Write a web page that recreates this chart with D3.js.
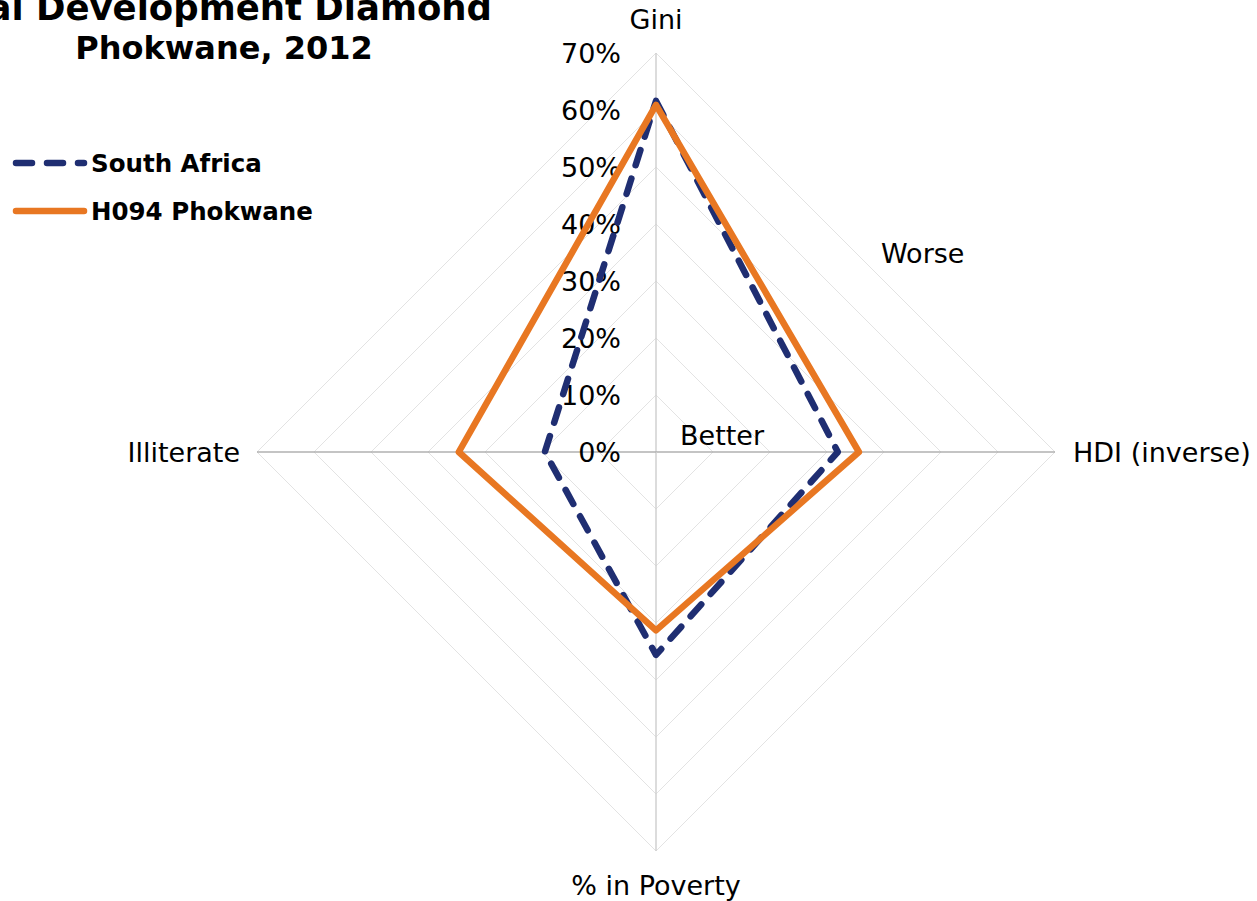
<!DOCTYPE html>
<html><head><meta charset="utf-8">
<script src="https://cdn.jsdelivr.net/npm/d3@7"></script>
<style>html,body{margin:0;padding:0;background:#fff;overflow:hidden}svg{display:block}</style>
</head><body>
<script>
const axesNames = ["Gini", "HDI (inverse)", "% in Poverty", "Illiterate"];
const southAfrica = [0.616, 0.319, 0.356, 0.195];
const phokwane = [0.609, 0.356, 0.313, 0.346];
const tickValues = [0, 0.1, 0.2, 0.3, 0.4, 0.5, 0.6, 0.7];
const seriesNames = ["South Africa", "H094 Phokwane"];
const titleLines = ["Social Development Diamond", "Phokwane, 2012"];

const W = 1257, H = 901, cx = 656, cy = 452, R = 399;
const svg = d3.select("body").append("svg").attr("width", W).attr("height", H);
const r = d3.scaleLinear().domain([0, 0.7]).range([0, R]);
const angle = d3.scalePoint().domain(axesNames).range([0, 2*Math.PI*3/4]);
const pt = (name, v) => { const a = angle(name) - Math.PI/2; return [cx + r(v)*Math.cos(a), cy + r(v)*Math.sin(a)]; };
const font = "'DejaVu Sans', Verdana, sans-serif";
const fs = 27;

// grid diamonds
const lineClosed = d3.line().curve(d3.curveLinearClosed);
svg.append("g").selectAll("path").data(tickValues.slice(1)).join("path")
  .attr("d", t => lineClosed(axesNames.map(n => pt(n, t))))
  .attr("fill", "none").attr("stroke", "#e3e3e3").attr("stroke-width", 1);

// spokes
svg.append("g").selectAll("line").data(axesNames).join("line")
  .attr("x1", cx).attr("y1", cy)
  .attr("x2", n => pt(n, 0.7)[0]).attr("y2", n => pt(n, 0.7)[1])
  .attr("stroke", (n, i) => i % 2 ? "#b0b0b0" : "#d0d0d0").attr("stroke-width", 1.5);

// tick labels
svg.append("g").selectAll("text").data(tickValues).join("text")
  .attr("x", 621).attr("y", t => cy - r(t) + 10)
  .attr("text-anchor", "end").attr("font-family", font).attr("font-size", fs).attr("fill", "#000")
  .text(d3.format(".0%"));

// axis labels
const labelPos = {
  "Gini": {x: cx, y: 29, anchor: "middle"},
  "HDI (inverse)": {x: 1073, y: 462, anchor: "start"},
  "% in Poverty": {x: cx, y: 895, anchor: "middle"},
  "Illiterate": {x: 240, y: 462, anchor: "end"}
};
svg.append("g").selectAll("text").data(axesNames).join("text")
  .attr("x", n => labelPos[n].x).attr("y", n => labelPos[n].y)
  .attr("text-anchor", n => labelPos[n].anchor)
  .attr("font-family", font).attr("font-size", fs).attr("fill", "#000").text(n => n);

// Worse / Better
svg.append("text").attr("x", 881).attr("y", 263).attr("font-family", font).attr("font-size", fs).text("Worse");
svg.append("text").attr("x", 680).attr("y", 445).attr("font-family", font).attr("font-size", fs).text("Better");

// series
const colors = ["#1f2e72", "#e87722"];
const dashes = ["16 14", null];
[southAfrica, phokwane].forEach((vals, i) => {
  svg.append("path")
    .attr("d", lineClosed(axesNames.map((n, j) => pt(n, vals[j]))))
    .attr("fill", "none").attr("stroke", colors[i]).attr("stroke-width", 6.5)
    .attr("stroke-linejoin", "round").attr("stroke-linecap", "round")
    .attr("stroke-dasharray", dashes[i]);
});

// legend
const leg = svg.append("g");
seriesNames.forEach((s, i) => {
  const y = 163 + i*48;
  leg.append("line").attr("x1", 16).attr("x2", 84).attr("y1", y).attr("y2", y)
    .attr("stroke", colors[i]).attr("stroke-width", 6.5).attr("stroke-linecap", "round")
    .attr("stroke-dasharray", i === 0 ? "16 15" : null);
  leg.append("text").attr("x", 91).attr("y", y + 9).attr("font-family", font)
    .attr("font-weight", "bold").attr("font-size", 24.5).text(s);
});

// title
svg.append("text").attr("x", 492).attr("y", 20).attr("text-anchor", "end")
  .attr("font-family", font).attr("font-weight", "bold").attr("font-size", 35.5).text(titleLines[0]);
svg.append("text").attr("x", 224).attr("y", 59).attr("text-anchor", "middle")
  .attr("font-family", font).attr("font-weight", "bold").attr("font-size", 32).text(titleLines[1]);
</script>
</body></html>
